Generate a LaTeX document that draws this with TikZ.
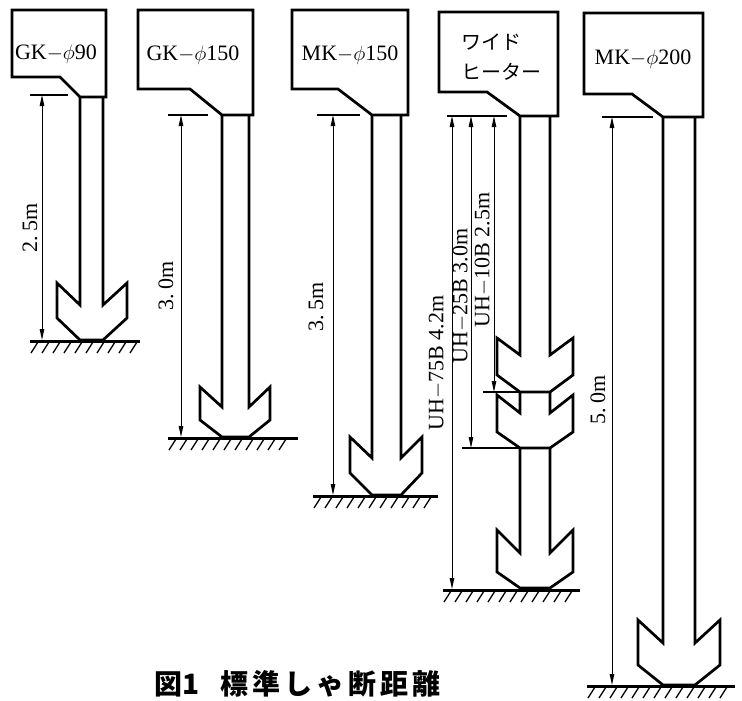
\documentclass[tikz,border=0pt]{standalone}
\usepackage{fontspec}
\setmainfont{Liberation Serif}
\newfontfamily\jpfont{Noto Sans CJK JP}
\usetikzlibrary{arrows.meta}
\tikzset{
  outl/.style={line width=2.7pt, line join=miter},
  dimln/.style={line width=1pt, {Triangle[length=11pt,width=4.5pt]}-{Triangle[length=11pt,width=4.5pt]}},
  tickln/.style={line width=1.2pt},
  gnd/.style={line width=3pt},
  hatch/.style={line width=1.3pt},
  lbl/.style={font=\fontsize{22}{26}\selectfont, inner sep=0pt},
  dimlbl/.style={lbl, rotate=90},
  jplbl/.style={font=\jpfont\fontsize{20}{22}\selectfont, inner sep=0pt, anchor=west},
}
% L T R Bl N S Bb
\newcommand\headbox[7]{%
  \draw[outl] (#1,#2) -- (#3,#2) -- (#3,#7) -- (#6,#7) -- (#5,#4) -- (#1,#4) -- cycle;}
% S Sr ol or ystart top inner outend bottom
\newcommand\arrowcol[9]{%
  \draw[outl] (#1,#5) -- (#1,#7) -- (#3,#6) -- (#3,#8) -- (#1,#9) -- (#2,#9) -- (#4,#8) -- (#4,#6) -- (#2,#7) -- (#2,#5);}
% x1 x2 y
\newcommand\groundln[3]{%
  \draw[gnd] (#1,#3) -- (#2,#3);
  \pgfmathtruncatemacro\nh{(#2-#1-10)/11}
  \foreach \i in {0,...,\nh}{\draw[hatch] ({#1+8+\i*11},#3+1) -- ({#1+1+\i*11},#3+12);}}
\begin{document}
\begin{tikzpicture}[x=1pt,y=-1pt]
\useasboundingbox (0,0) rectangle (742,701);

% ---------- column 1 : GK-phi90
\headbox{12}{10}{106}{77}{60}{80}{97}
\arrowcol{80}{103}{57}{127}{97}{283}{305}{318}{340}
\groundln{30}{140}{341}
\draw[tickln] (30,95) -- (68,95);
\coordinate (d1t) at (42,95);
\coordinate (d1b) at (42,340);
\draw[dimln] (d1t) -- (d1b);
\node[lbl, anchor=base] (t1) at (56,60) {GK$-\phi$90};
\node[dimlbl] (l1) at (30,228) {2.\,5m};

% ---------- column 2 : GK-phi150
\headbox{138}{10}{253}{89}{190}{222}{115}
\arrowcol{222}{249}{200}{270}{115}{387}{407}{420}{437}
\groundln{168}{298}{438}
\draw[tickln] (168,115) -- (208,115);
\coordinate (d2t) at (181,115);
\coordinate (d2b) at (181,437);
\draw[dimln] (d2t) -- (d2b);
\node[lbl, anchor=base] (t2) at (193,61) {GK$-\phi$150};
\node[dimlbl] (l2) at (166,286) {3.\,0m};

% ---------- column 3 : MK-phi150
\headbox{292}{10}{408}{89}{338}{372}{115}
\arrowcol{372}{401}{350}{422}{115}{437}{458}{473}{495}
\groundln{313}{438}{496}
\draw[tickln] (317,115) -- (360,115);
\coordinate (d3t) at (333,115);
\coordinate (d3b) at (333,495);
\draw[dimln] (d3t) -- (d3b);
\node[lbl, anchor=base] (t3) at (350,61) {MK$-\phi$150};
\node[dimlbl] (l3) at (316,307) {3.\,5m};

% ---------- column 4 : wide heater
\headbox{439}{12}{558}{92}{487}{520}{116}
\arrowcol{520}{550}{497}{573}{116}{338}{355}{375}{392}
\arrowcol{520}{550}{497}{573}{392}{395}{413}{432}{448}
\arrowcol{520}{550}{497}{573}{448}{530}{553}{572}{588}
\groundln{443}{580}{590}
\draw[tickln] (447,116) -- (507,116);
\draw[tickln] (462,448) -- (520,448);
\draw[tickln] (483,392) -- (520,392);
\coordinate (d4at) at (452,116);
\coordinate (d4ab) at (452,589);
\coordinate (d4bt) at (471,116);
\coordinate (d4bb) at (471,448);
\coordinate (d4ct) at (494,116);
\coordinate (d4cb) at (494,392);
\draw[dimln] (d4at) -- (d4ab);
\draw[dimln] (d4bt) -- (d4bb);
\draw[dimln] (d4ct) -- (d4cb);
\node[jplbl] (t4a) at (461,42) {ワイド};
\node[jplbl] (t4b) at (461,72) {ヒーター};
\node[dimlbl] (l4a) at (437,363) {UH$-$75B 4.2m};
\node[dimlbl] (l4b) at (461,296) {UH$-$25B 3.0m};
\node[dimlbl] (l4c) at (483,260) {UH$-$10B 2.5m};

% ---------- column 5 : MK-phi200
\headbox{584}{13}{703}{94}{632}{663}{117}
\arrowcol{663}{695}{638}{720}{117}{620}{643}{665}{685}
\groundln{587}{735}{686}
\draw[tickln] (602,117) -- (653,117);
\coordinate (d5t) at (612,117);
\coordinate (d5b) at (612,685);
\draw[dimln] (d5t) -- (d5b);
\node[lbl, anchor=base] (t5) at (643,65) {MK$-\phi$200};
\node[dimlbl] (l5) at (598,400) {5.\,0m};

% ---------- caption
\node[anchor=base west, inner sep=0pt, font=\jpfont\bfseries\fontsize{28}{30}\selectfont] (cap) at (154,694) {図1\hspace{21pt}標\kern4pt 準\kern4pt し\kern4pt ゃ\kern4pt 断\kern4pt 距\kern4pt 離};
\end{tikzpicture}
\end{document}
